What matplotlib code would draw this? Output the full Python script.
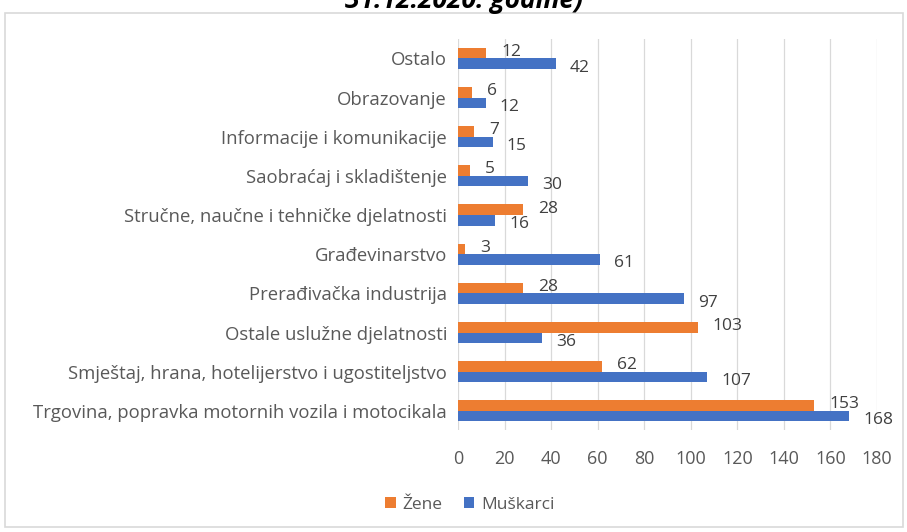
import matplotlib.pyplot as plt
from matplotlib.patches import Rectangle

categories = [
    'Ostalo', 'Obrazovanje', 'Informacije i komunikacije', 'Saobraćaj i skladištenje',
    'Stručne, naučne i tehničke djelatnosti', 'Građevinarstvo', 'Prerađivačka industrija',
    'Ostale uslužne djelatnosti', 'Smještaj, hrana, hotelijerstvo i ugostiteljstvo',
    'Trgovina, popravka motornih vozila i motocikala'
]
zene = [12, 6, 7, 5, 28, 3, 28, 103, 62, 153]
muskarci = [42, 12, 15, 30, 16, 61, 97, 36, 107, 168]

plt.rcParams['font.family'] = ['Open Sans', 'DejaVu Sans']
orange = '#ED7D31'
blue = '#4472C4'
gray = '#595959'

fig = plt.figure(figsize=(9.07, 5.32), dpi=100)
ax = fig.add_axes([458 / 907, 0.191, 419 / 907, 0.736])

# chart border
fig.patches.append(Rectangle((5 / 907, 5 / 532), 898 / 907, 514 / 532, transform=fig.transFigure,
                             fill=False, edgecolor='#d9d9d9', linewidth=1.2))

n = len(categories)
pos = list(range(n))
h = 0.27
ax.barh([p - h / 2 for p in pos], zene, height=h, color=orange, label='Žene')
ax.barh([p + h / 2 for p in pos], muskarci, height=h, color=blue, label='Muškarci')

for p, v in zip(pos, zene):
    ax.text(v + 6.5, p - h / 2 - 0.03, str(v), va='center', ha='left', fontsize=12.5, color='#404040')
for p, v in zip(pos, muskarci):
    ax.text(v + 6, p + h / 2 + 0.1, str(v), va='center', ha='left', fontsize=12.5, color='#404040')

ax.set_ylim(n - 0.5, -0.5)
ax.set_xlim(0, 180)
ax.set_xticks(range(0, 181, 20))
ax.set_yticks(pos)
ax.set_yticklabels(categories, fontsize=13.3)
ax.tick_params(axis='both', length=0, colors=gray)
ax.tick_params(axis='x', pad=14, labelsize=13)
ax.tick_params(axis='y', pad=8)
ax.grid(axis='x', color='#d9d9d9', linewidth=0.9)
ax.set_axisbelow(True)
for s in ax.spines.values():
    s.set_visible(False)

fig.text(464 / 907, 1 - 8 / 532, '31.12.2020. godine)', ha='center', va='baseline',
         fontsize=19, fontweight='bold', fontstyle='italic', color='black')

fig.legend(loc='center', bbox_to_anchor=(470 / 907, 1 - 505 / 532), ncol=2, frameon=False,
           fontsize=12.5, handlelength=0.6, handleheight=0.6, columnspacing=1.2,
           handletextpad=0.4, labelcolor=gray)

fig.savefig('out.png', dpi=100)
